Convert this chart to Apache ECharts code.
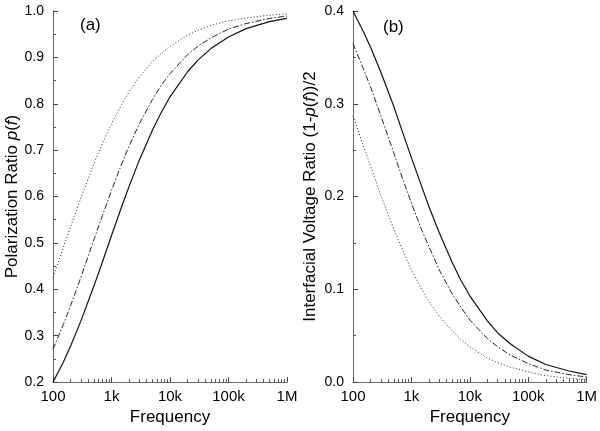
<!DOCTYPE html>
<html>
<head>
<meta charset="utf-8">
<script src="https://cdn.jsdelivr.net/npm/echarts@6/dist/echarts.min.js"></script>
<style>
  html, body { margin: 0; padding: 0; background: #fff; }
  #chart { width: 600px; height: 431px; }
</style>
</head>
<body>
<div id="chart"></div>
<script>
const freq = [100, 150, 200, 300, 500, 700, 1e3, 1.5e3, 2e3, 3e3, 5e3, 7e3, 1e4, 2e4, 3e4, 5e4, 1e5, 2e5, 5e5, 1e6]

// panel (a): polarization ratio p(f)
const polSolid   = [0.200, 0.243, 0.278, 0.332, 0.407, 0.459, 0.516, 0.579, 0.622, 0.679, 0.743, 0.780, 0.815, 0.869, 0.894, 0.919, 0.944, 0.962, 0.977, 0.984]
const polDashDot = [0.271, 0.324, 0.365, 0.426, 0.507, 0.559, 0.613, 0.671, 0.709, 0.757, 0.809, 0.839, 0.865, 0.906, 0.924, 0.942, 0.961, 0.973, 0.984, 0.989]
const polDotted  = [0.426, 0.490, 0.535, 0.597, 0.671, 0.715, 0.757, 0.799, 0.826, 0.858, 0.891, 0.908, 0.924, 0.948, 0.958, 0.969, 0.979, 0.985, 0.991, 0.994]

// panel (b): interfacial voltage ratio (1-p(f))/2
const volSolid   = [0.400, 0.378, 0.361, 0.334, 0.297, 0.270, 0.242, 0.211, 0.189, 0.161, 0.129, 0.110, 0.093, 0.066, 0.053, 0.041, 0.028, 0.019, 0.012, 0.008]
const volDashDot = [0.365, 0.338, 0.318, 0.287, 0.247, 0.220, 0.193, 0.164, 0.146, 0.121, 0.095, 0.081, 0.067, 0.047, 0.038, 0.029, 0.020, 0.013, 0.008, 0.0055]
const volDotted  = [0.287, 0.255, 0.233, 0.201, 0.165, 0.143, 0.121, 0.100, 0.087, 0.071, 0.055, 0.046, 0.038, 0.026, 0.021, 0.016, 0.011, 0.007, 0.004, 0.003]

// x axis ticks
const majorTicks = [100, 1e3, 1e4, 1e5, 1e6]
const minorTicks = [
  200, 300, 400, 500, 600, 700, 800, 900,
  2e3, 3e3, 4e3, 5e3, 6e3, 7e3, 8e3, 9e3,
  2e4, 3e4, 4e4, 5e4, 6e4, 7e4, 8e4, 9e4,
  2e5, 3e5, 4e5, 5e5, 6e5, 7e5, 8e5, 9e5
]
const freqLabels = { 100: '100', 1000: '1k', 10000: '10k', 100000: '100k', 1000000: '1M' }

const font = 'Liberation Sans'

const pair = ys => freq.map((f, i) => [f, ys[i]])

const lineStyles = [
  { color: '#111', width: 1.2, type: 'solid' },
  { color: '#222', width: 1.0, type: [6, 2, 1.5, 2] },
  { color: '#444', width: 1.0, type: [1.2, 2] }
]

function xAxis(gridIndex) {
  return {
    type: 'log', gridIndex, logBase: 10, min: 100, max: 1e6,
    axisLine: { show: true, lineStyle: { color: '#666', width: 1 } },
    axisTick: { show: true, inside: true, length: 5, customValues: majorTicks, lineStyle: { color: '#444', width: 1 } },
    axisLabel: {
      color: '#000', fontSize: 15, fontFamily: font, margin: 7,
      customValues: majorTicks,
      formatter: v => freqLabels[Math.round(v)] || ''
    },
    splitLine: { show: false },
    name: 'Frequency', nameLocation: 'middle', nameGap: 18,
    nameTextStyle: { color: '#000', fontSize: 17, fontFamily: font }
  }
}

// second log axis on the same grid, only for the short ticks
function xMinor(gridIndex) {
  return {
    type: 'log', gridIndex, logBase: 10, min: 100, max: 1e6, position: 'bottom',
    axisLine: { show: false },
    axisTick: { show: true, inside: true, length: 3, customValues: minorTicks, lineStyle: { color: '#555', width: 1 } },
    axisLabel: { show: false },
    splitLine: { show: false }
  }
}

function yAxis(gridIndex, min, max, name, gap) {
  return {
    type: 'value', gridIndex, min, max, interval: 0.1,
    axisLine: { show: true, lineStyle: { color: '#666', width: 1 } },
    axisTick: { show: true, inside: true, length: 5, lineStyle: { color: '#444', width: 1 } },
    minorTick: { show: true, splitNumber: 2, length: 3, lineStyle: { color: '#555', width: 1 } },
    axisLabel: { color: '#000', fontSize: 14, fontFamily: font, margin: 9, formatter: v => v.toFixed(1) },
    splitLine: { show: false },
    name, nameLocation: 'middle', nameRotate: 90, nameGap: gap,
    nameTextStyle: {
      color: '#000', fontSize: 17, fontFamily: font,
      rich: { i: { fontStyle: 'italic', fontSize: 17, fontFamily: font, color: '#000' } }
    }
  }
}

function series(xi, data) {
  return data.map((ys, k) => ({
    type: 'line', xAxisIndex: xi, yAxisIndex: xi,
    data: pair(ys), showSymbol: false, smooth: false,
    lineStyle: lineStyles[k], silent: true
  }))
}

const chart = echarts.init(document.getElementById('chart'), null, { renderer: 'canvas' })
chart.setOption({
  animation: false,
  backgroundColor: '#fff',
  grid: [
    { left: 53, right: 313, top: 11, bottom: 38 },
    { left: 353, right: 13, top: 11, bottom: 38 }
  ],
  xAxis: [xAxis(0), xAxis(1), xMinor(0), xMinor(1)],
  yAxis: [
    yAxis(0, 0.2, 1.0, 'Polarization Ratio {i|p}({i|f})', 32),
    yAxis(1, 0, 0.4, 'Interfacial Voltage Ratio (1-{i|p}({i|f}))/2', 34)
  ],
  graphic: [
    { type: 'text', left: 80, top: 17, style: { text: '(a)', fontSize: 17, fontFamily: font, fill: '#000' } },
    { type: 'text', left: 383, top: 19, style: { text: '(b)', fontSize: 17, fontFamily: font, fill: '#000' } }
  ],
  series: [
    ...series(0, [polSolid, polDashDot, polDotted]),
    ...series(1, [volSolid, volDashDot, volDotted])
  ]
})
</script>
</body>
</html>
